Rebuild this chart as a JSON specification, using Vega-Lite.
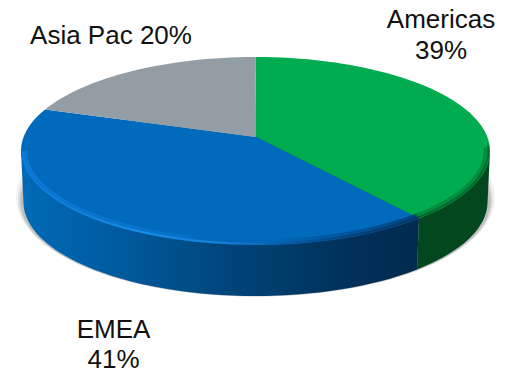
{
  "$schema": "https://vega.github.io/schema/vega-lite/v6.json",
  "width": 514,
  "height": 371,
  "padding": 0,
  "background": "white",
  "view": {"stroke": null},
  "data": {"values": [
    {"region": "Americas", "share": 39, "label": "Americas\n39%"},
    {"region": "EMEA", "share": 41, "label": "EMEA\n41%"},
    {"region": "Asia Pac", "share": 20, "label": "Asia Pac 20%"}
  ]},
  "layer": [
    {"transform": [{"filter": "datum.region === 'EMEA'"}],
     "mark": {"type": "point", "filled": true, "size": 4, "opacity": 0.05, "fill": "#000000", "strokeWidth": 0,
              "shape": "M-241,12 A239.5,99 0 0 0 238,12 A239.5,99 0 0 0 -241,12 Z"}},
    {"transform": [{"filter": "datum.region === 'EMEA'"}],
     "mark": {"type": "point", "filled": true, "size": 4, "opacity": 0.08, "fill": "#000000", "strokeWidth": 0,
              "shape": "M-239,14 A237.5,97 0 0 0 236,14 A237.5,97 0 0 0 -239,14 Z"}},
    {"transform": [{"filter": "datum.region === 'EMEA'"}],
     "mark": {"type": "point", "filled": true, "size": 4, "opacity": 0.14, "fill": "#000000", "strokeWidth": 0,
              "shape": "M-237,15 A235.5,96 0 0 0 234,15 A235.5,96 0 0 0 -237,15 Z"}},

    {"transform": [{"filter": "datum.region === 'EMEA'"}],
     "mark": {"type": "point", "filled": true, "size": 4, "opacity": 1, "strokeWidth": 0,
              "fill": {"x1": 0, "y1": 0, "x2": 1, "y2": 0, "gradient": "linear", "stops": [
                {"offset": 0, "color": "#006ab6"},
                {"offset": 0.2, "color": "#005ea4"},
                {"offset": 0.45, "color": "#004b84"},
                {"offset": 0.62, "color": "#003f6f"},
                {"offset": 0.82, "color": "#00305a"},
                {"offset": 1, "color": "#002b4d"}]},
              "shape": "M-236,-34.5 L-233.5,17.5 A232,94 0 0 0 160,84 L162,32.9 L-1,-48.5 Z"}},
    {"transform": [{"filter": "datum.region === 'Americas'"}],
     "mark": {"type": "point", "filled": true, "size": 4, "opacity": 1, "strokeWidth": 0, "fill": "#03471f",
              "shape": "M162,32.9 L160,84 A232,94 0 0 0 230.5,17.5 L233,-34.5 L-1,-48.5 Z"}},

    {"mark": {"type": "point", "filled": true, "size": 4, "opacity": 1, "strokeWidth": 0},
     "encoding": {
       "shape": {"field": "region", "type": "nominal", "legend": null, "scale": {
         "domain": ["Americas", "EMEA", "Asia Pac"],
         "range": [
           "M-1,-48.5 L-1.5,-128.5 A234.5,94 0 0 1 162,32.88 Z",
           "M-1,-48.5 L162,32.88 A234.5,94 0 0 1 -212,-75.93 Z",
           "M-1,-48.5 L-212,-75.93 A234.5,94 0 0 1 -1.5,-128.5 Z"
         ]}},
       "color": {"field": "region", "type": "nominal", "legend": null, "scale": {
         "domain": ["Americas", "EMEA", "Asia Pac"],
         "range": ["#00ac4f", "#006abc", "#929da6"]}}
     }},

    {"transform": [{"filter": "datum.region === 'EMEA'"}],
     "mark": {"type": "point", "filled": false, "size": 4, "opacity": 1, "strokeWidth": 4.5,
              "stroke": {"x1": 0, "y1": 0, "x2": 1, "y2": 0, "gradient": "linear", "stops": [
                {"offset": 0, "color": "rgba(20,130,230,0.55)"},
                {"offset": 0.4, "color": "rgba(20,130,230,0.3)"},
                {"offset": 0.6, "color": "rgba(0,60,120,0)"},
                {"offset": 0.8, "color": "rgba(0,50,100,0.35)"},
                {"offset": 1, "color": "rgba(0,40,80,0.6)"}]},
              "shape": "M-232,-34.5 A230.5,90.5 0 0 0 160,30.07"}},
    {"transform": [{"filter": "datum.region === 'EMEA'"}],
     "mark": {"type": "point", "filled": false, "size": 4, "opacity": 1, "strokeWidth": 2,
              "stroke": {"x1": 0, "y1": 0, "x2": 1, "y2": 0, "gradient": "linear", "stops": [
                {"offset": 0, "color": "#0a7ad2"},
                {"offset": 0.3, "color": "#1a8de6"},
                {"offset": 0.5, "color": "#1782da"},
                {"offset": 0.66, "color": "#0a5aa6"},
                {"offset": 0.85, "color": "#043f78"},
                {"offset": 1, "color": "#033560"}]},
              "shape": "M-234.5,-34.5 A233,92.7 0 0 0 161.5,31.74"}},
    {"transform": [{"filter": "datum.region === 'Americas'"}],
     "mark": {"type": "point", "filled": false, "size": 4, "opacity": 0.3, "strokeWidth": 4.5, "stroke": "#03471f",
              "shape": "M160,30.07 A230.5,90.5 0 0 0 228.8,-38"}},
    {"transform": [{"filter": "datum.region === 'Americas'"}],
     "mark": {"type": "point", "filled": false, "size": 4, "opacity": 0.6, "strokeWidth": 2, "stroke": "#03471f",
              "shape": "M161.5,31.74 A233,92.7 0 0 0 231,-40.6"}},

    {"transform": [{"filter": "datum.region === 'Americas'"}],
     "mark": {"type": "text", "font": "Liberation Sans", "fontSize": 26, "color": "#111111", "align": "center", "baseline": "alphabetic", "lineBreak": "\n", "lineHeight": 31, "dx": 184, "dy": -157.5},
     "encoding": {"text": {"field": "label", "type": "nominal"}}},
    {"transform": [{"filter": "datum.region === 'Asia Pac'"}],
     "mark": {"type": "text", "font": "Liberation Sans", "fontSize": 26, "color": "#111111", "align": "center", "baseline": "alphabetic", "dx": -146, "dy": -141.5},
     "encoding": {"text": {"field": "label", "type": "nominal"}}},
    {"transform": [{"filter": "datum.region === 'EMEA'"}],
     "mark": {"type": "text", "font": "Liberation Sans", "fontSize": 26, "color": "#111111", "align": "center", "baseline": "alphabetic", "lineBreak": "\n", "lineHeight": 30, "dx": -143.5, "dy": 152},
     "encoding": {"text": {"field": "label", "type": "nominal"}}}
  ]
}
